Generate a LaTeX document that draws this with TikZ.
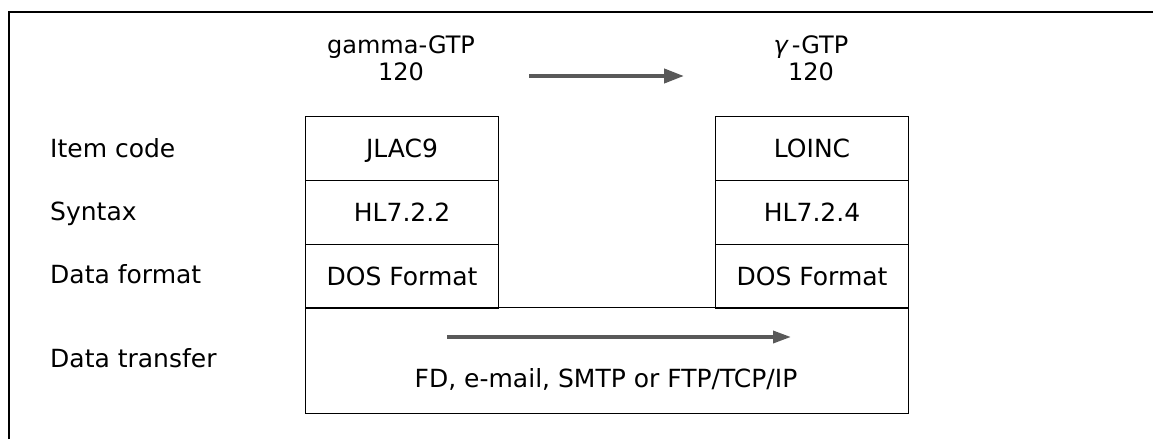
\documentclass[tikz,border=0pt]{standalone}
\usepackage{fontspec}
\setmainfont{DejaVu Sans}
\usetikzlibrary{arrows.meta}
\begin{document}
\begin{tikzpicture}[x=1pt,y=-1pt,
  txt/.style={font=\fontsize{25}{30}\selectfont},
  cell/.style={txt,draw=black,line width=1.1pt,minimum width=193pt,minimum height=63.5pt,inner sep=0pt,anchor=north west,text height=18pt,text depth=0pt},
  lab/.style={txt,anchor=base west,inner sep=0pt},
  ttl/.style={align=center,inner sep=0pt,font=\fontsize{24}{27}\selectfont},
  garrow/.style={draw=black!65,line width=4pt,-{Triangle[length=20pt,width=14pt]}}]
\useasboundingbox (0,0) rectangle (1153,439);
\draw[line width=1.2pt] (9,439) -- (9,12) -- (1153,12);
% titles
\node[ttl] (t1) at (401,58) {gamma-GTP\\120};
\node[ttl] (t2) at (811,58) {{\itshape γ}\,-GTP\\120};
\coordinate (a1) at (529,76);
\coordinate (a2) at (684,76);
\draw[garrow] (a1) -- (a2);
% left column
\node[cell] (l1) at (305,116) {JLAC9};
\node[cell] (l2) at (305,180) {HL7.2.2};
\node[cell] (l3) at (305,244) {DOS Format};
% right column
\node[cell] (r1) at (715,116) {LOINC};
\node[cell] (r2) at (715,180) {HL7.2.4};
\node[cell] (r3) at (715,244) {DOS Format};
% bottom box
\node[draw=black,line width=1.1pt,minimum width=603pt,minimum height=106pt,inner sep=0pt,anchor=north west] (bb) at (305,307) {};
\node[txt,inner sep=0pt,text height=18pt,text depth=0pt] (bt) at (606,378) {FD, e-mail, SMTP or FTP/TCP/IP};
\coordinate (b1) at (447,337);
\coordinate (b2) at (791,337);
\draw[garrow,line width=3.5pt,-{Triangle[length=18pt,width=12pt]}] (b1) -- (b2);
% row labels
\node[lab] (i1) at (50,157) {Item code};
\node[lab] (i2) at (50,220) {Syntax};
\node[lab] (i3) at (50,283) {Data format};
\node[lab] (i4) at (50,367) {Data transfer};
\end{tikzpicture}
\end{document}
